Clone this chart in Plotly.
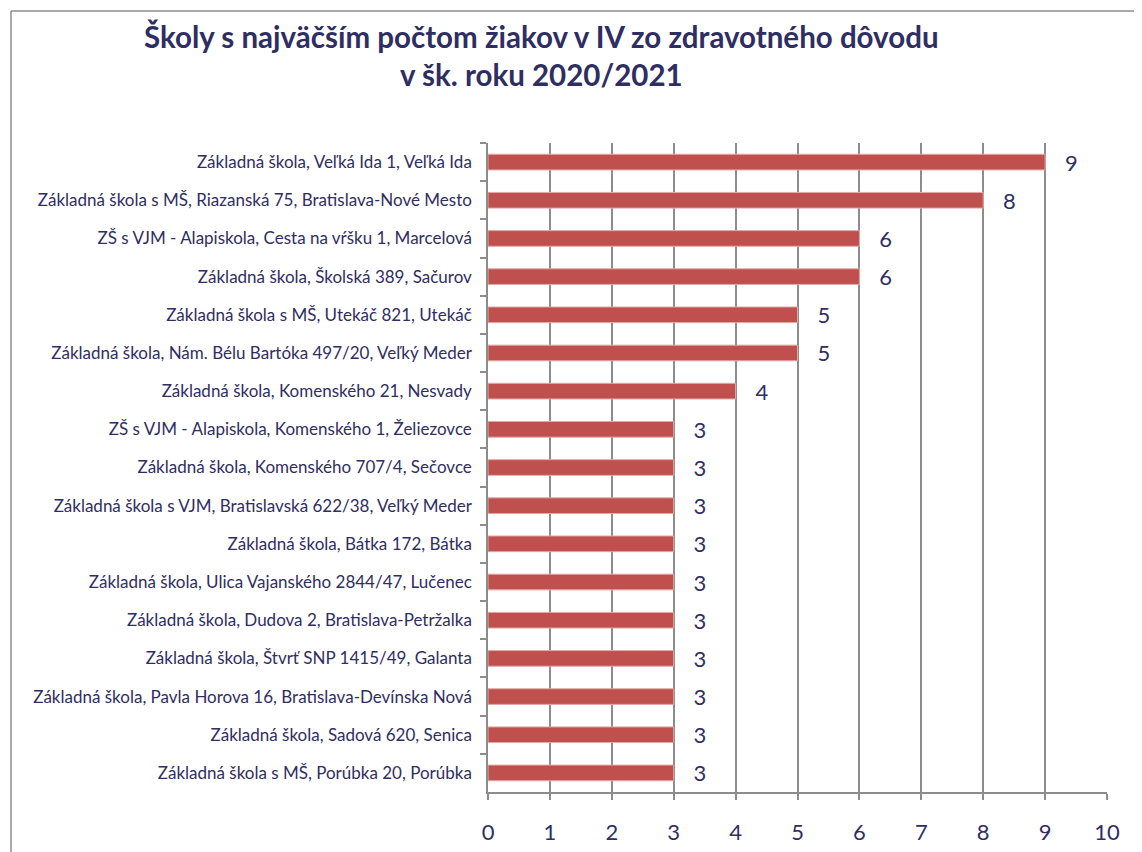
import plotly.graph_objects as go

schools = [
    "Základná škola, Veľká Ida 1, Veľká Ida",
    "Základná škola s MŠ, Riazanská 75, Bratislava-Nové Mesto",
    "ZŠ s VJM - Alapiskola, Cesta na vŕšku 1, Marcelová",
    "Základná škola, Školská 389, Sačurov",
    "Základná škola s MŠ, Utekáč 821, Utekáč",
    "Základná škola, Nám. Bélu Bartóka 497/20, Veľký Meder",
    "Základná škola, Komenského 21, Nesvady",
    "ZŠ s VJM - Alapiskola, Komenského 1, Želiezovce",
    "Základná škola, Komenského 707/4, Sečovce",
    "Základná škola s VJM, Bratislavská 622/38, Veľký Meder",
    "Základná škola, Bátka 172, Bátka",
    "Základná škola, Ulica Vajanského 2844/47, Lučenec",
    "Základná škola, Dudova 2, Bratislava-Petržalka",
    "Základná škola, Štvrť SNP 1415/49, Galanta",
    "Základná škola, Pavla Horova 16, Bratislava-Devínska Nová",
    "Základná škola, Sadová 620, Senica",
    "Základná škola s MŠ, Porúbka 20, Porúbka",
]
pupils = [9, 8, 6, 6, 5, 5, 4, 3, 3, 3, 3, 3, 3, 3, 3, 3, 3]
x_ticks = [0, 1, 2, 3, 4, 5, 6, 7, 8, 9, 10]

title_text = "Školy s najväčším počtom žiakov v IV zo zdravotného dôvodu<br>v šk. roku 2020/2021"

NAVY = "#2F2E63"
BAR = "#C0504D"
GRID = "#8C8C8C"

fig = go.Figure()
fig.add_trace(go.Bar(
    y=schools,
    x=pupils,
    orientation="h",
    marker=dict(color=BAR, line=dict(color="#E3A9A7", width=1)),
    text=pupils,
    texttemplate="   %{x}",
    textposition="outside",
    constraintext="none",
    textfont=dict(family="Lato", size=22, color=NAVY),
    cliponaxis=False,
    hoverinfo="skip",
))

W, H = 1142, 852
# the page body adds an 8px offset; margins are compensated for it
ml, mr, mt, mb = 480, 43, 135, 68

fig.update_layout(
    width=W, height=H,
    margin=dict(l=ml, r=mr, t=mt, b=mb, autoexpand=False),
    paper_bgcolor="white",
    plot_bgcolor="white",
    showlegend=False,
    bargap=0.59,
    title=dict(
        text=title_text,
        x=0.467, xanchor="center", xref="container",
        y=0.953, yanchor="top", yref="container",
        font=dict(family="Lato", size=29.5, color=NAVY, weight="bold"),
    ),
    font=dict(family="Lato", color=NAVY),
)
fig.update_xaxes(
    range=[0, 10],
    tickvals=x_ticks,
    showgrid=True, gridcolor=GRID, gridwidth=1.5,
    showline=True, linecolor=GRID, linewidth=1.5,
    ticks="outside", ticklen=6, tickcolor=GRID, tickwidth=1.5,
    ticklabelstandoff=14,
    tickfont=dict(family="Lato", size=22, color=NAVY),
    zeroline=False,
    fixedrange=True,
)
fig.update_yaxes(
    categoryorder="array", categoryarray=schools,
    autorange="reversed",
    showline=True, linecolor=GRID, linewidth=1.5,
    ticks="outside", ticklen=6, tickcolor=GRID, tickwidth=1.5,
    tickson="boundaries",
    ticklabelstandoff=11,
    tickfont=dict(family="Lato", size=17, color=NAVY),
    showgrid=False,
    fixedrange=True,
)

# chart frame (cropped on the right and bottom, as in the original)
pw = W - ml - mr
ph = H - mt - mb
def px_to_paper_x(px):
    return (px - ml) / pw
def px_to_paper_y(py):
    return (H - mb - py) / ph
fig.add_shape(type="line", xref="paper", yref="paper",
              x0=px_to_paper_x(3), x1=px_to_paper_x(W + 20),
              y0=px_to_paper_y(3), y1=px_to_paper_y(3),
              line=dict(color="#8C8C8C", width=1.5))
fig.add_shape(type="line", xref="paper", yref="paper",
              x0=px_to_paper_x(3), x1=px_to_paper_x(3),
              y0=px_to_paper_y(3), y1=px_to_paper_y(H + 20),
              line=dict(color="#8C8C8C", width=1.5))

fig.write_html("out.html", config={"displayModeBar": False})
